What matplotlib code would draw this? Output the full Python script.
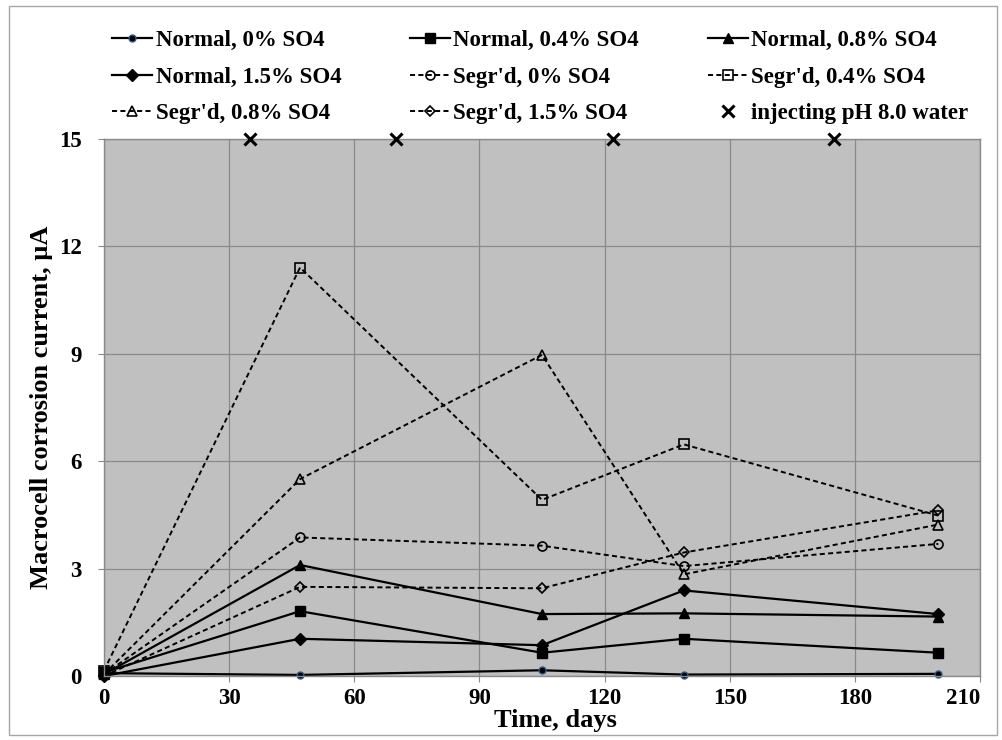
import numpy as np
import matplotlib
matplotlib.use("Agg")
import matplotlib.pyplot as plt
from matplotlib.patches import Rectangle

# Times-like bold text, as in the Excel original
plt.rcParams['font.family'] = ['Liberation Serif', 'DejaVu Serif']
plt.rcParams['font.weight'] = 'bold'

# --- data (days vs macrocell corrosion current, uA) ---
days = [0, 47, 105, 139, 200]

normal_0 = [0.08, 0.03, 0.16, 0.04, 0.06]
normal_04 = [0.10, 1.81, 0.65, 1.04, 0.65]
normal_08 = [0.05, 3.10, 1.73, 1.75, 1.66]
normal_15 = [0.00, 1.04, 0.86, 2.39, 1.73]
segr_0 = [0.05, 3.87, 3.64, 3.07, 3.69]
segr_04 = [0.15, 11.41, 4.92, 6.47, 4.48]
segr_08 = [0.05, 5.50, 8.97, 2.84, 4.23]
segr_15 = [0.00, 2.49, 2.45, 3.45, 4.63]

inject_days = [35, 70, 122, 175]
inject_level = [15, 15, 15, 15]

x_ticks = [0, 30, 60, 90, 120, 150, 180, 210]
y_ticks = [0, 3, 6, 9, 12, 15]

GRID = '#8a8a8a'
BLUE_EDGE = '#2f5b8c'

fig = plt.figure(figsize=(10.02, 7.40), dpi=100)
ax = fig.add_axes([104/1002, 1 - 676/740, 876/1002, 537/740])
ax.set_facecolor('#c0c0c0')

# outer chart border
fig.patches.append(Rectangle((9/1002, 5/740), 988/1002, 729/740, transform=fig.transFigure,
                             fill=False, edgecolor='#a6a6a6', linewidth=1.0))

solid = dict(color='black', linestyle='-', linewidth=1.6, clip_on=False)
dashed = dict(color='black', linestyle=(0, (2.6, 1.7)), linewidth=1.4, clip_on=False)

l_n0, = ax.plot(days, normal_0, marker='o', markersize=5, markerfacecolor='black',
                markeredgecolor=BLUE_EDGE, markeredgewidth=1.0, label='Normal, 0% SO4', **solid)
l_n04, = ax.plot(days, normal_04, marker='s', markersize=6.5, markerfacecolor='black',
                 markeredgecolor='black', label='Normal, 0.4% SO4', **solid)
l_n08, = ax.plot(days, normal_08, marker='^', markersize=7.5, markerfacecolor='black',
                 markeredgecolor='black', label='Normal, 0.8% SO4', **solid)
l_n15, = ax.plot(days, normal_15, marker='D', markersize=6.5, markerfacecolor='black',
                 markeredgecolor='black', label='Normal, 1.5% SO4', **solid)

l_s0, = ax.plot(days, segr_0, marker='o', markersize=6.5, markerfacecolor='none',
                markeredgecolor='black', markeredgewidth=1.2, label="Segr'd, 0% SO4", **dashed)
l_s04, = ax.plot(days, segr_04, marker='s', markersize=6.5, markerfacecolor='none',
                 markeredgecolor='black', markeredgewidth=1.2, label="Segr'd, 0.4% SO4", **dashed)
l_s08, = ax.plot(days, segr_08, marker='^', markersize=7, markerfacecolor='none',
                 markeredgecolor='black', markeredgewidth=1.2, label="Segr'd, 0.8% SO4", **dashed)
l_s15, = ax.plot(days, segr_15, marker='D', markersize=5.5, markerfacecolor='none',
                 markeredgecolor='black', markeredgewidth=1.2, label="Segr'd, 1.5% SO4", **dashed)

l_x, = ax.plot(inject_days, inject_level, linestyle='none', marker='x', markersize=9,
               markeredgewidth=2.2, color='black', clip_on=False, zorder=5,
               label='injecting pH 8.0 water')

# axes, ticks and grid
ax.set_xlim(0, 210)
ax.set_ylim(0, 15)
ax.set_xticks(x_ticks)
ax.set_yticks(y_ticks)
ax.grid(True, color=GRID, linewidth=0.9)
ax.set_axisbelow(True)
for side in ['left', 'right', 'top', 'bottom']:
    ax.spines[side].set_color(GRID)
    ax.spines[side].set_linewidth(1.0)
ax.tick_params(axis='both', direction='out', length=4, color=GRID, labelsize=16.5)
ax.tick_params(axis='x', pad=5)
ax.tick_params(axis='y', pad=12)
# Excel pulls the last x label inside the chart area
ax.get_xticklabels()[-1].set_horizontalalignment('right')

ax.set_xlabel('Time, days', fontsize=19, fontweight='bold')
ax.xaxis.set_label_coords(0.515, -0.062)
ax.set_ylabel('Macrocell corrosion current, µA', fontsize=19, fontweight='bold')
ax.yaxis.set_label_coords(-0.058, 0.5)

# legend: 3x3 grid above the plot, row-wise order like the original
handles = [l_n0, l_n15, l_s08, l_n04, l_s0, l_s15, l_n08, l_s04, l_x]
fig.legend(handles, [h.get_label() for h in handles], ncol=3, loc='upper left',
           bbox_to_anchor=(112/1002, 1 - 30/740), frameon=False, fontsize=16.5,
           handlelength=1.75, handletextpad=0.15, columnspacing=3.0,
           borderaxespad=0, borderpad=0, labelspacing=0.68)

plt.savefig('out.png', dpi=100)
